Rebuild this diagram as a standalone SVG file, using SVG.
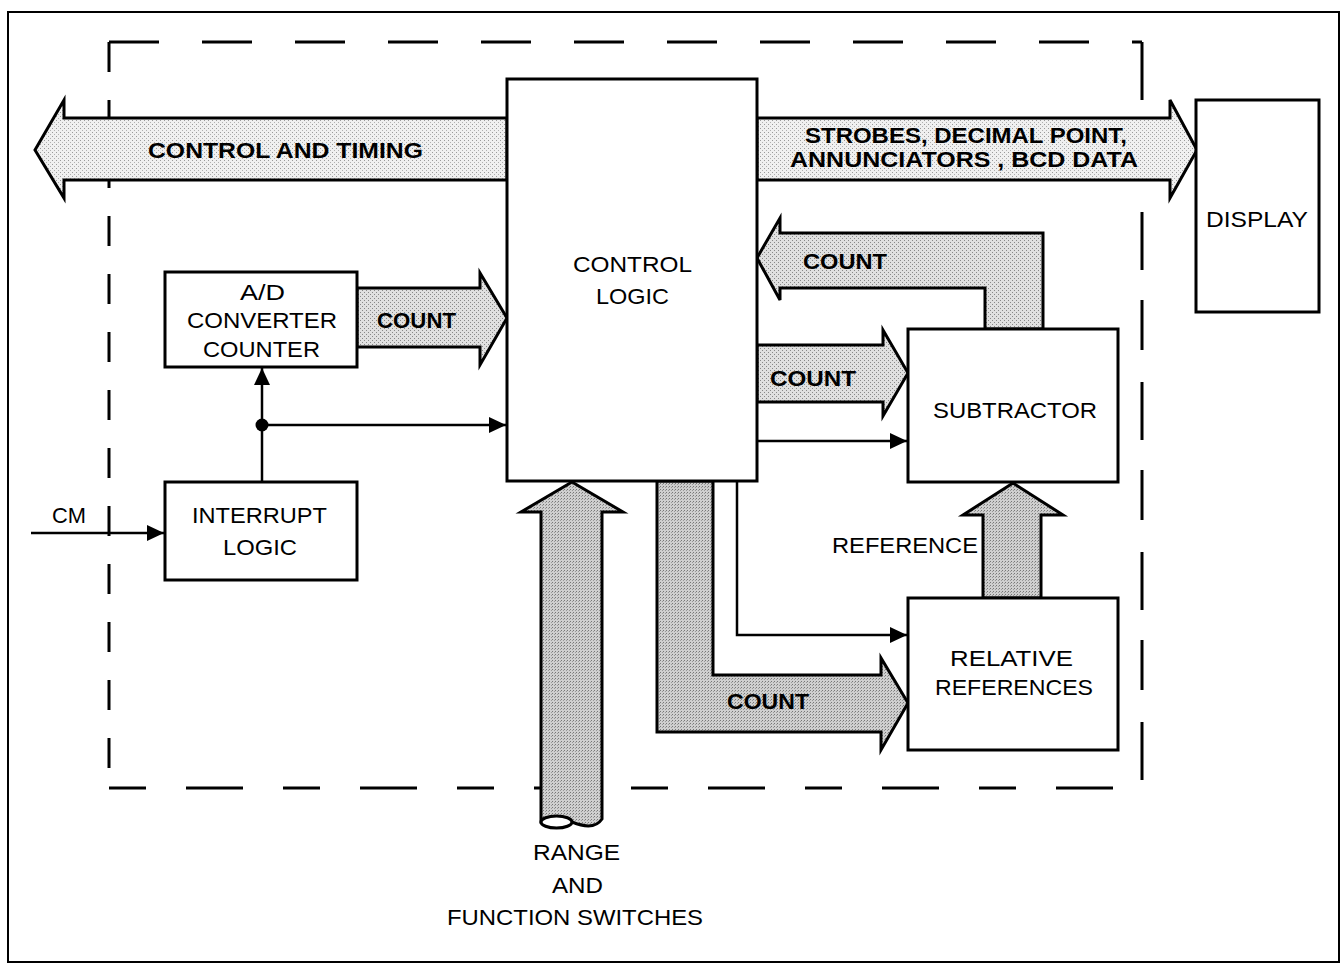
<svg xmlns="http://www.w3.org/2000/svg" width="1343" height="965" viewBox="0 0 1343 965">
<defs>
<pattern id="stipL" width="4" height="4" patternUnits="userSpaceOnUse"><rect width="4" height="4" fill="#f0f0f0"/><rect x="0" y="0" width="1" height="1" fill="#9a9a9a"/><rect x="2" y="2" width="1" height="1" fill="#b0b0b0"/></pattern>
<pattern id="stipM" width="4" height="4" patternUnits="userSpaceOnUse"><rect width="4" height="4" fill="#e0e0e0"/><rect x="0" y="0" width="1" height="1" fill="#888"/><rect x="2" y="2" width="1" height="1" fill="#888"/></pattern>
<pattern id="stipD" width="3" height="3" patternUnits="userSpaceOnUse"><rect width="3" height="3" fill="#cfcfcf"/><rect x="0" y="0" width="1" height="1" fill="#777"/><rect x="2" y="1" width="1" height="1" fill="#999"/></pattern>
<marker id="ah" markerUnits="userSpaceOnUse" markerWidth="18" markerHeight="16" refX="17" refY="8" orient="auto"><path d="M0,0 L17,8 L0,16 z" fill="#000"/></marker>
<style>
.box{fill:#fff;stroke:#000;stroke-width:3}
.blk{stroke:#000;stroke-width:3;stroke-linejoin:miter}
.ln{fill:none;stroke:#000;stroke-width:2.5}
.dash{fill:none;stroke:#000;stroke-width:3}
text{font-family:"Liberation Sans",Arial,sans-serif;font-size:22px;fill:#000}
.b{font-weight:bold}
</style>
</defs>
<rect width="1343" height="965" fill="#fff"/>
<rect x="8" y="12" width="1331" height="950" fill="none" stroke="#000" stroke-width="2"/>
<g id="boundary">
<path class="dash" d="M109,42 H1142" stroke-dasharray="50 43"/>
<path class="dash" d="M109,42 V788" stroke-dasharray="30 28"/>
<path class="dash" d="M109,788 H1142" stroke-dasharray="37 40 57 40"/>
<path class="dash" d="M1142,42 V788" stroke-dasharray="58 30 50 32"/>
</g>
<g id="connectors">
<path class="blk" fill="url(#stipL)" d="M35,150 L64,100 L64,118 L507,118 L507,180 L64,180 L64,198 Z"/>
<path class="blk" fill="url(#stipL)" d="M757,118 L1170,118 L1170,100 L1197,150 L1170,198 L1170,180 L757,180 Z"/>
<path class="blk" fill="url(#stipM)" d="M357,288 L480,288 L480,273 L507,318 L480,365 L480,347 L357,347 Z"/>
<path class="blk" fill="url(#stipM)" d="M1043,329 L1043,233 L780,233 L780,218 L757,258 L780,300 L780,288 L985,288 L985,329 Z"/>
<path class="blk" fill="url(#stipM)" d="M757,345 L883,345 L883,330 L908,373 L883,416 L883,402 L757,402 Z"/>
<path class="blk" fill="url(#stipD)" d="M1013,483 L1063,515 L1041,515 L1041,598 L983,598 L983,515 L963,515 Z"/>
<path class="blk" fill="url(#stipD)" d="M657,481 L657,732 L881,732 L881,750 L908,703 L881,658 L881,675 L713,675 L713,481 Z"/>
<path class="blk" fill="url(#stipD)" d="M572,482 L623,512 L602,512 L602,819 C596,828 584,827 572,822 L541,822 L541,512 L521,512 Z"/>
<ellipse cx="556.5" cy="822" rx="15.5" ry="6" fill="#fff" stroke="#000" stroke-width="3"/>
<path class="ln" d="M262,482 V368" marker-end="url(#ah)"/>
<path class="ln" d="M262,425 H506" marker-end="url(#ah)"/>
<circle cx="262" cy="425" r="6.5" fill="#000"/>
<path class="ln" d="M31,533 H164" marker-end="url(#ah)"/>
<path class="ln" d="M757,441 H907" marker-end="url(#ah)"/>
<path class="ln" d="M737,481 V635 H907" marker-end="url(#ah)"/>
<text class="b" x="148" y="158" textLength="275" lengthAdjust="spacingAndGlyphs">CONTROL AND TIMING</text>
<text class="b" x="805" y="143" textLength="322" lengthAdjust="spacingAndGlyphs">STROBES, DECIMAL POINT,</text>
<text class="b" x="790" y="167" textLength="348" lengthAdjust="spacingAndGlyphs">ANNUNCIATORS , BCD DATA</text>
<text class="b" x="377" y="328" textLength="79" lengthAdjust="spacingAndGlyphs">COUNT</text>
<text class="b" x="803" y="269" textLength="84" lengthAdjust="spacingAndGlyphs">COUNT</text>
<text class="b" x="770" y="386" textLength="86" lengthAdjust="spacingAndGlyphs">COUNT</text>
<text class="b" x="727" y="709" textLength="82" lengthAdjust="spacingAndGlyphs">COUNT</text>
<text x="832" y="553" textLength="146" lengthAdjust="spacingAndGlyphs">REFERENCE</text>
<text x="52" y="523" textLength="34" lengthAdjust="spacingAndGlyphs">CM</text>
<text x="533" y="860" textLength="87" lengthAdjust="spacingAndGlyphs">RANGE</text>
<text x="552" y="893" textLength="51" lengthAdjust="spacingAndGlyphs">AND</text>
<text x="447" y="925" textLength="256" lengthAdjust="spacingAndGlyphs">FUNCTION SWITCHES</text>
</g>
<g id="control-logic">
<rect class="box" x="507" y="79" width="250" height="402"/>
<text x="573" y="272" textLength="119" lengthAdjust="spacingAndGlyphs">CONTROL</text>
<text x="596" y="304" textLength="73" lengthAdjust="spacingAndGlyphs">LOGIC</text>
</g>
<g id="display">
<rect class="box" x="1196" y="100" width="123" height="212"/>
<text x="1206" y="227" textLength="102" lengthAdjust="spacingAndGlyphs">DISPLAY</text>
</g>
<g id="ad-converter">
<rect class="box" x="165" y="272" width="192" height="95"/>
<text x="240" y="300" textLength="45" lengthAdjust="spacingAndGlyphs">A/D</text>
<text x="187" y="328" textLength="150" lengthAdjust="spacingAndGlyphs">CONVERTER</text>
<text x="203" y="357" textLength="117" lengthAdjust="spacingAndGlyphs">COUNTER</text>
</g>
<g id="interrupt-logic">
<rect class="box" x="165" y="482" width="192" height="98"/>
<text x="192" y="523" textLength="135" lengthAdjust="spacingAndGlyphs">INTERRUPT</text>
<text x="223" y="555" textLength="74" lengthAdjust="spacingAndGlyphs">LOGIC</text>
</g>
<g id="subtractor">
<rect class="box" x="908" y="329" width="210" height="153"/>
<text x="933" y="418" textLength="164" lengthAdjust="spacingAndGlyphs">SUBTRACTOR</text>
</g>
<g id="relative-references">
<rect class="box" x="908" y="598" width="210" height="152"/>
<text x="950" y="666" textLength="123" lengthAdjust="spacingAndGlyphs">RELATIVE</text>
<text x="935" y="695" textLength="158" lengthAdjust="spacingAndGlyphs">REFERENCES</text>
</g>
</svg>
